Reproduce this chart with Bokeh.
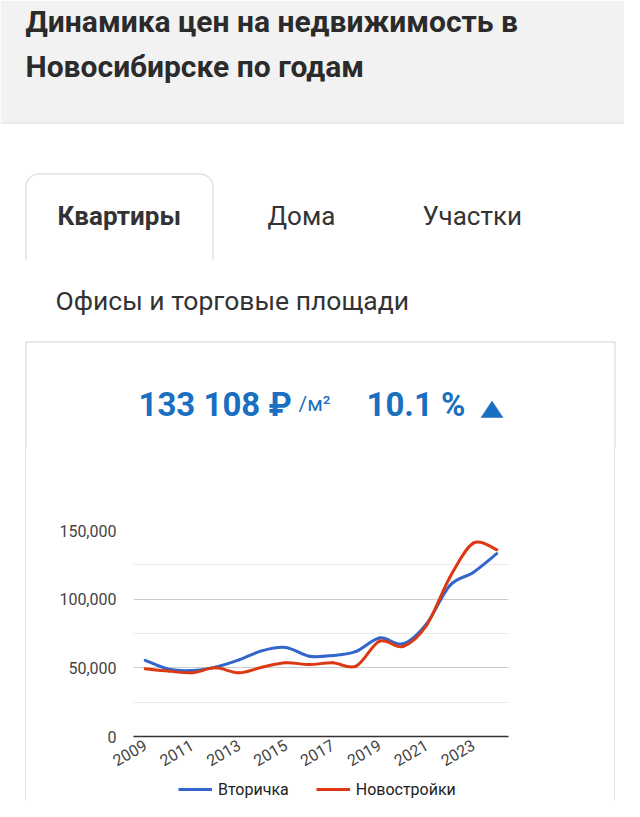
import numpy as np
from bokeh.plotting import figure
from bokeh.layouts import column, row
from bokeh.models import (Range1d, FixedTicker, SingleIntervalTicker, NumeralTickFormatter,
                          Legend, LegendItem, Div)
from bokeh.core.properties import value
from bokeh.embed import file_html
from bokeh.resources import INLINE

# ---------------- data ----------------
years = [2009, 2010, 2011, 2012, 2013, 2014, 2015, 2016,
         2017, 2018, 2019, 2020, 2021, 2022, 2023, 2024]
secondary = [55500, 49000, 48000, 50500, 55800, 62500, 64800, 58500,
             59000, 62000, 71800, 67500, 82000, 110000, 119500, 133108]
new_build = [49300, 47600, 46400, 50000, 46400, 50500, 53700, 52400,
             53700, 51200, 69400, 65500, 80800, 116000, 140800, 136000]
series_names = ["Вторичка", "Новостройки"]
tick_years = [2009, 2011, 2013, 2015, 2017, 2019, 2021, 2023]
headline_price = "133 108 ₽"
headline_unit = "/м²"
headline_change = "10.1 %"
page_title = ["Динамика цен на недвижимость в", "Новосибирске по годам"]
tabs = ["Квартиры", "Дома", "Участки", "Офисы и торговые площади"]

FONT = value("Roboto")
W = 624
H_ALL = 801
H_TOP = 448
H_BOT = H_ALL - H_TOP
BORDER = "#e2e2e2"
TXT = "#2b2b2b"
BLUE_TXT = "#1a6fc0"
C_BLUE = "#3366cc"
C_RED = "#dc3912"

# ---------------- top figure (page header, tabs, headline) ----------------
top = figure(width=W, height=H_TOP, x_range=Range1d(0, W), y_range=Range1d(H_TOP, 0),
             x_axis_location=None, y_axis_location=None, toolbar_location=None,
             output_backend="svg", min_border=0, outline_line_color=None,
             background_fill_color="white", border_fill_color="white")
top.grid.visible = False

# grey header band
top.quad(left=0, right=W, top=0, bottom=122, fill_color="#f2f2f2", line_color=None)
top.segment(x0=0, x1=W, y0=122.5, y1=122.5, line_color="#e6e6e6", line_width=1.5)

top.text(x=[25], y=[20.5], text=[page_title[0]], text_font=FONT, text_font_size="30px",
         text_font_style="bold", text_color=TXT, text_baseline="alphabetic")
top.text(x=[25], y=[65.5], text=[page_title[1]], text_font=FONT, text_font_size="30px",
         text_font_style="bold", text_color=TXT, text_baseline="alphabetic")

# selected tab outline with rounded top corners
r = 13
L, R, T, B = 25.5, 212.5, 173.5, 259
a1 = np.linspace(np.pi, 1.5 * np.pi, 12)
a2 = np.linspace(1.5 * np.pi, 2 * np.pi, 12)
xs = [L] + list(L + r + r * np.cos(a1)) + list(R - r + r * np.cos(a2)) + [R]
ys = [B] + list(T + r + r * np.sin(a1)) + list(T + r + r * np.sin(a2)) + [B]
top.line(xs, ys, line_color=BORDER, line_width=1.5)

top.text(x=[57], y=[215], text=[tabs[0]], text_font=FONT, text_font_size="26px",
         text_font_style="bold", text_color="#333333", text_baseline="alphabetic")
top.text(x=[267], y=[215], text=[tabs[1]], text_font=FONT, text_font_size="26px",
         text_color="#333333", text_baseline="alphabetic")
top.text(x=[422], y=[215], text=[tabs[2]], text_font=FONT, text_font_size="26px",
         text_color="#333333", text_baseline="alphabetic")
top.text(x=[55], y=[299.5], text=[tabs[3]], text_font=FONT, text_font_size="26.5px",
         text_color="#333333", text_baseline="alphabetic")

# chart card borders (upper part)
top.line([25.5, 25.5, 614.5, 614.5], [H_TOP, 341.5, 341.5, H_TOP],
         line_color=BORDER, line_width=1.5)

# headline numbers
top.text(x=[138], y=[403.5], text=[headline_price], text_font=FONT, text_font_size="33px",
         text_font_style="bold", text_color=BLUE_TXT, text_baseline="alphabetic")
top.text(x=[298], y=[403.5], text=[headline_unit], text_font=FONT, text_font_size="21px",
         text_color=BLUE_TXT, text_baseline="alphabetic")
top.text(x=[366], y=[403.5], text=[headline_change], text_font=FONT, text_font_size="33px",
         text_font_style="bold", text_color=BLUE_TXT, text_baseline="alphabetic")
top.patch([480.5, 502.5, 491.5], [417, 417, 400.5],
          fill_color=BLUE_TXT, line_color=BLUE_TXT, line_width=0.5)

# ---------------- side spacers (card borders, lower part) ----------------
LW = 26
CW = 588
RW = W - LW - CW
left_sp = Div(text="", width=LW, height=H_BOT, margin=0,
              styles={"box-sizing": "border-box", "border-right": "1.5px solid " + BORDER})
right_sp = Div(text="", width=RW, height=H_BOT, margin=0,
               styles={"box-sizing": "border-box", "border-left": "1.5px solid " + BORDER})

# ---------------- chart ----------------
FR_L, FR_R = 133 - LW, 508 - LW          # frame left/right inside chart canvas
FR_T, FR_B = 530 - H_TOP, 736 - H_TOP    # frame top/bottom inside chart canvas
H_CH = FR_B + 43
H_LG = H_BOT - H_CH

p = figure(width=CW, height=H_CH, x_range=Range1d(years[0] - 0.5, years[-1] + 0.5),
           y_range=Range1d(0, 150000), toolbar_location=None, output_backend="svg",
           min_border_left=FR_L, min_border_right=CW - FR_R, min_border_top=FR_T,
           min_border_bottom=H_CH - FR_B,
           outline_line_color=None, background_fill_color="white", border_fill_color="white")

p.xaxis.ticker = FixedTicker(ticks=tick_years)
p.xaxis.major_label_orientation = np.pi / 6
p.xaxis.axis_line_color = "#333333"
p.xaxis.axis_line_width = 1.5
p.xaxis.major_tick_out = 0
p.xaxis.major_tick_in = 0
p.xaxis.minor_tick_out = 0
p.xaxis.minor_tick_in = 0
p.xaxis.major_label_standoff = 7
p.xaxis.major_label_text_font = "Roboto"
p.xaxis.major_label_text_font_size = "16px"
p.xaxis.major_label_text_color = "#444444"

p.yaxis.ticker = SingleIntervalTicker(interval=50000, num_minor_ticks=2)
p.yaxis.formatter = NumeralTickFormatter(format="0,0")
p.yaxis.axis_line_color = None
p.yaxis.major_tick_out = 0
p.yaxis.major_tick_in = 0
p.yaxis.minor_tick_out = 0
p.yaxis.minor_tick_in = 0
p.yaxis.major_label_standoff = 17
p.yaxis.major_label_text_font = "Roboto"
p.yaxis.major_label_text_font_size = "16px"
p.yaxis.major_label_text_color = "#444444"

p.xgrid.visible = False
p.ygrid.grid_line_color = "#cccccc"
p.ygrid.grid_line_width = 1
p.ygrid.minor_grid_line_color = "#ebebeb"


def smooth_segments(xv, yv):
    x = np.asarray(xv, dtype=float)
    y = np.asarray(yv, dtype=float)
    xp = np.concatenate([[x[0]], x, [x[-1]]])
    yp = np.concatenate([[y[0]], y, [y[-1]]])
    n = len(x)
    out = {k: [] for k in ["x0", "y0", "x1", "y1", "cx0", "cy0", "cx1", "cy1"]}
    for i in range(n - 1):
        j = i + 1
        out["x0"].append(xp[j]); out["y0"].append(yp[j])
        out["x1"].append(xp[j + 1]); out["y1"].append(yp[j + 1])
        out["cx0"].append(xp[j] + (xp[j + 1] - xp[j - 1]) / 6)
        out["cy0"].append(yp[j] + (yp[j + 1] - yp[j - 1]) / 6)
        out["cx1"].append(xp[j + 1] - (xp[j + 2] - xp[j]) / 6)
        out["cy1"].append(yp[j + 1] - (yp[j + 2] - yp[j]) / 6)
    return out


series = [(secondary, C_BLUE, series_names[0]), (new_build, C_RED, series_names[1])]
for vals, col, name in series:
    s = smooth_segments(years, vals)
    p.bezier(x0=s["x0"], y0=s["y0"], x1=s["x1"], y1=s["y1"], cx0=s["cx0"], cy0=s["cy0"],
             cx1=s["cx1"], cy1=s["cy1"], line_color=col, line_width=3, line_cap="round")

# ---------------- legend strip ----------------
lf = figure(width=CW, height=H_LG, x_range=Range1d(0, FR_R - FR_L), y_range=Range1d(0, H_LG),
            x_axis_location=None, y_axis_location=None, toolbar_location=None,
            output_backend="svg", min_border_left=FR_L, min_border_right=CW - FR_R,
            min_border_top=0, min_border_bottom=0, outline_line_color=None,
            background_fill_color="white", border_fill_color="white")
lf.grid.visible = False
items = []
for vals, col, name in series:
    rr = lf.line(x=[-50, -40], y=[-50, -50], line_color=col, line_width=3)
    items.append(LegendItem(label=name, renderers=[rr]))
lg = Legend(items=items, location=(45, H_LG - 20), orientation="horizontal",
            border_line_color=None, background_fill_alpha=0, padding=0, margin=0,
            spacing=27, glyph_width=34, glyph_height=20, label_height=20, label_standoff=6,
            label_text_font="Roboto", label_text_font_size="16px", label_text_color="#222222")
lf.add_layout(lg)

layout = column(top, row(left_sp, column(p, lf, spacing=0), right_sp, spacing=0), spacing=0)

open("out.html", "w").write(file_html(layout, INLINE))
